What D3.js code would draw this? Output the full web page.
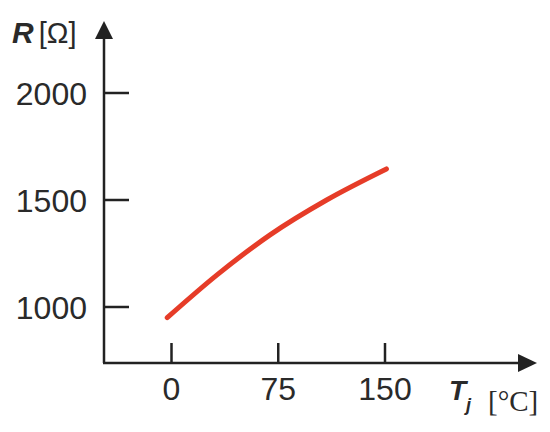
<!DOCTYPE html>
<html>
<head>
<meta charset="utf-8">
<script src="https://cdn.jsdelivr.net/npm/d3@7"></script>
<style>
  body { margin: 0; background: #fff; }
  text { font-family: "Liberation Sans", Arial, sans-serif; fill: #2a2a2a; }
</style>
</head>
<body>
<div id="chart"></div>
<script>
// Data
const tempC = [-3, 32, 69, 109, 151];
const resistance = [950, 1150, 1336, 1500, 1645];
const xTicks = [0, 75, 150];
const yTicks = [1000, 1500, 2000];

const W = 550, H = 432;
const origin = { x: 104, y: 363 };

const svg = d3.select("#chart")
    .append("svg")
    .attr("width", W)
    .attr("height", H);

const x = d3.scaleLinear().domain([0, 150]).range([171.5, 385]);
const y = d3.scaleLinear().domain([1000, 2000]).range([307, 93]);

const ink = "#222";

// axes lines
svg.append("line")
    .attr("x1", origin.x).attr("y1", origin.y)
    .attr("x2", origin.x).attr("y2", 36)
    .attr("stroke", ink).attr("stroke-width", 2.5);
svg.append("line")
    .attr("x1", origin.x - 1).attr("y1", origin.y)
    .attr("x2", 522).attr("y2", origin.y)
    .attr("stroke", ink).attr("stroke-width", 2.5);

// arrow heads
svg.append("path")
    .attr("d", `M${origin.x},21 L${origin.x - 9},39 L${origin.x + 9},39 Z`)
    .attr("fill", ink);
svg.append("path")
    .attr("d", `M537,${origin.y} L518,${origin.y - 9} L518,${origin.y + 9} Z`)
    .attr("fill", ink);

// y ticks
svg.selectAll(".ytick")
    .data(yTicks)
    .enter()
    .append("line")
    .attr("x1", origin.x).attr("x2", 129)
    .attr("y1", d => y(d)).attr("y2", d => y(d))
    .attr("stroke", ink).attr("stroke-width", 2.5);

svg.selectAll(".ylab")
    .data(yTicks)
    .enter()
    .append("text")
    .attr("x", 87)
    .attr("y", d => y(d) + 12)
    .attr("text-anchor", "end")
    .style("font-size", "32px")
    .text(d => d);

// x ticks
svg.selectAll(".xtick")
    .data(xTicks)
    .enter()
    .append("line")
    .attr("x1", d => x(d)).attr("x2", d => x(d))
    .attr("y1", origin.y).attr("y2", 343)
    .attr("stroke", ink).attr("stroke-width", 2.5);

svg.selectAll(".xlab")
    .data(xTicks)
    .enter()
    .append("text")
    .attr("x", d => x(d))
    .attr("y", 400)
    .attr("text-anchor", "middle")
    .style("font-size", "32px")
    .text(d => d);

// curve
const pts = tempC.map((t, i) => [t, resistance[i]]);
svg.append("path")
    .datum(pts)
    .attr("fill", "none")
    .attr("stroke", "#e63c28")
    .attr("stroke-width", 5)
    .attr("stroke-linecap", "round")
    .attr("d", d3.line().x(d => x(d[0])).y(d => y(d[1])).curve(d3.curveMonotoneX));

// axis titles
const yt = svg.append("text").attr("x", 12).attr("y", 43);
yt.append("tspan").style("font-weight", "bold").style("font-style", "italic")
    .style("font-size", "30px").text("R");
yt.append("tspan").attr("dx", 5).style("font-size", "29px").text("[Ω]");

const xt = svg.append("text").attr("x", 449).attr("y", 400);
xt.append("tspan").style("font-weight", "bold").style("font-style", "italic")
    .style("font-size", "28px").text("T");
xt.append("tspan").attr("x", 466).attr("y", 411).style("font-size", "18px")
    .style("font-weight", "bold").style("font-style", "italic").text("j");
xt.append("tspan").attr("x", 488).attr("y", 411)
    .style("font-family", "'Liberation Serif', 'Times New Roman', serif")
    .style("font-size", "29px")
    .text("[°C]");
</script>
</body>
</html>
